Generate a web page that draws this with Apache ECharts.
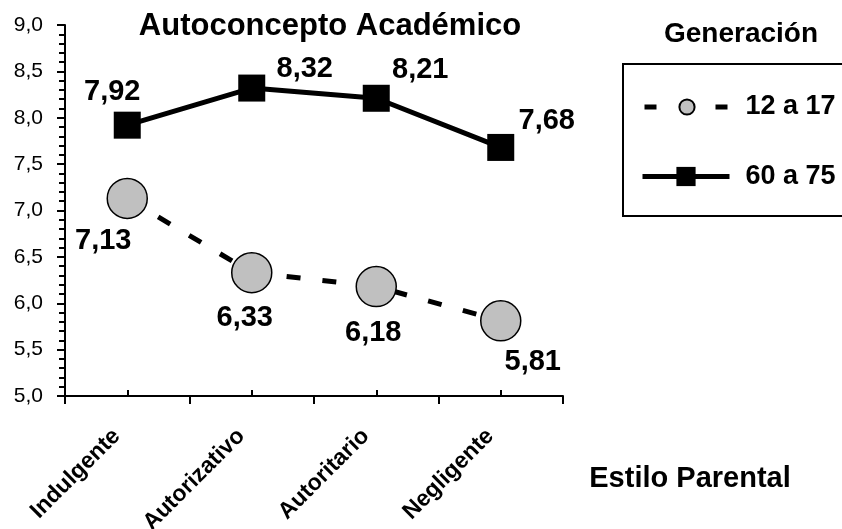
<!DOCTYPE html>
<html>
<head>
<meta charset="utf-8">
<title>Autoconcepto Académico</title>
<script src="https://cdn.jsdelivr.net/npm/echarts@6/dist/echarts.min.js"></script>
<style>
  html, body { margin: 0; padding: 0; background: #fff; }
  #chart { width: 842px; height: 529px; }
</style>
</head>
<body>
<div id="chart"></div>
<script>
// Parenting styles on the x axis
const categories = ['Indulgente', 'Autorizativo', 'Autoritario', 'Negligente'];
// Mean academic self-concept per generation
const teens = [7.13, 6.33, 6.18, 5.81];      // 12 a 17
const seniors = [7.92, 8.32, 8.21, 7.68];    // 60 a 75
const seriesNames = ['12 a 17', '60 a 75'];
const yTicks = { min: 5, max: 9, step: 0.5 };

// Where each value label sits relative to its marker (px)
const teenLabelOffsets = [[-24, 43], [-7, 45], [-3, 46], [32, 41]];
const seniorLabelOffsets = [[-15, -33], [53, -19], [44, -28], [46, -26]];

const FONT = '"Liberation Sans", Arial, Helvetica, sans-serif';
const comma = (v, d) => Number(v).toFixed(d).replace('.', ',');

function withLabels(values, offsets) {
  return values.map((v, i) => ({
    value: v,
    label: { offset: offsets[i] }
  }));
}

const valueLabel = {
  show: true,
  position: 'inside',
  color: '#000',
  fontFamily: FONT,
  fontWeight: 'bold',
  fontSize: 29,
  formatter: p => comma(p.value, 2)
};

const chart = echarts.init(document.getElementById('chart'), null, { renderer: 'canvas' });

chart.setOption({
  backgroundColor: '#fff',
  animation: false,
  textStyle: { fontFamily: FONT, color: '#000' },
  grid: {
    left: 65, right: 279, top: 25, bottom: 133,
    containLabel: false, outerBoundsMode: 'none'
  },
  xAxis: [
    {
      type: 'category',
      data: categories,
      boundaryGap: true,
      axisLine: { show: true, lineStyle: { color: '#000', width: 2 } },
      axisTick: { show: true, inside: false, length: 8, lineStyle: { color: '#000', width: 2 } },
      axisLabel: {
        interval: 0, rotate: 45, margin: 26, padding: [0, 15, 0, 0],
        color: '#000', fontFamily: FONT, fontWeight: 'bold', fontSize: 23
      },
      splitLine: { show: false }
    },
    {
      // short inner ticks at the category centres
      type: 'category',
      data: categories,
      position: 'bottom',
      boundaryGap: true,
      axisLine: { show: false },
      axisTick: { show: true, inside: true, alignWithLabel: true, length: 6, lineStyle: { color: '#000', width: 2 } },
      axisLabel: { show: false },
      splitLine: { show: false }
    }
  ],
  yAxis: {
    type: 'value',
    min: yTicks.min,
    max: yTicks.max,
    interval: yTicks.step,
    axisLine: { show: true, lineStyle: { color: '#000', width: 2 } },
    axisTick: { show: true, length: 8, lineStyle: { color: '#000', width: 2 } },
    minorTick: { show: true, splitNumber: 5, length: 6, lineStyle: { color: '#000', width: 2 } },
    axisLabel: {
      margin: 22, color: '#000', fontFamily: FONT, fontSize: 21,
      formatter: v => comma(v, 1)
    },
    splitLine: { show: false },
    minorSplitLine: { show: false }
  },
  legend: [
    {
      data: [seriesNames[0]],
      left: 642, top: 93.5,
      orient: 'horizontal',
      padding: 0,
      itemWidth: 85, itemHeight: 19,
      lineStyle: { type: [12, 59], width: 5, color: '#000' },
      textStyle: {
        fontFamily: FONT, fontWeight: 'bold', fontSize: 27, color: '#000',
        lineHeight: 19, padding: [0, 0, 0, 11]
      }
    },
    {
      data: [seriesNames[1]],
      left: 640, top: 163,
      orient: 'horizontal',
      padding: 0,
      itemWidth: 87, itemHeight: 24,
      lineStyle: { type: 'solid', width: 5, color: '#000' },
      textStyle: {
        fontFamily: FONT, fontWeight: 'bold', fontSize: 27, color: '#000',
        lineHeight: 24, padding: [0, 0, 0, 11]
      }
    }
  ],
  graphic: [
    {
      type: 'text', x: 330, y: 26,
      style: {
        text: 'Autoconcepto Académico', fill: '#000',
        font: 'bold 31px ' + FONT, textAlign: 'center', textVerticalAlign: 'middle'
      }
    },
    {
      type: 'text', x: 741, y: 34,
      style: {
        text: 'Generación', fill: '#000',
        font: 'bold 28px ' + FONT, textAlign: 'center', textVerticalAlign: 'middle'
      }
    },
    {
      type: 'rect',
      shape: { x: 623, y: 64, width: 240, height: 152 },
      style: { fill: 'none', stroke: '#000', lineWidth: 2 },
      z: 0
    },
    {
      type: 'text', x: 690, y: 479,
      style: {
        text: 'Estilo Parental', fill: '#000',
        font: 'bold 29px ' + FONT, textAlign: 'center', textVerticalAlign: 'middle'
      }
    }
  ],
  series: [
    {
      name: seriesNames[0],
      type: 'line',
      data: withLabels(teens, teenLabelOffsets),
      symbol: 'circle',
      symbolSize: 40,
      itemStyle: { color: '#c0c0c0', borderColor: '#000', borderWidth: 1.5 },
      lineStyle: { color: '#000', width: 5, type: [14, 22] },
      label: valueLabel,
      z: 3
    },
    {
      name: seriesNames[1],
      type: 'line',
      data: withLabels(seniors, seniorLabelOffsets),
      symbol: 'rect',
      symbolSize: 27,
      itemStyle: { color: '#000', borderColor: '#000', borderWidth: 0 },
      lineStyle: { color: '#000', width: 5, type: 'solid' },
      label: valueLabel,
      z: 3
    }
  ]
});
</script>
</body>
</html>
